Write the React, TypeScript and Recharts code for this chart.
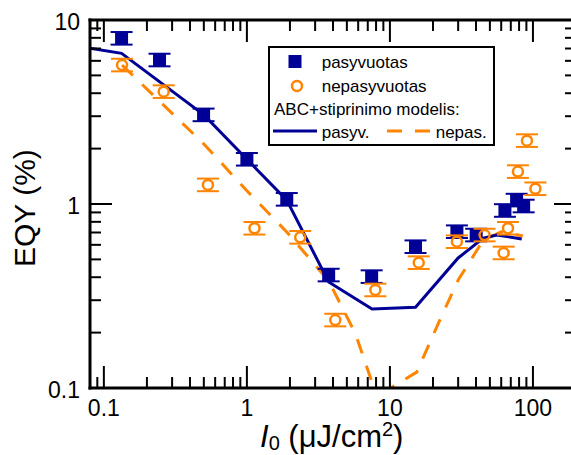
import React from 'react';
import { ComposedChart, XAxis, YAxis, Line, Scatter } from 'recharts';

const NAVY = '#000096';
const ORANGE = '#ff8400';
const FONT = '"Liberation Sans", Arial, Helvetica, sans-serif';

// Measured EQY, passivated sample
const pasI0 = [0.133, 0.245, 0.498, 1.0, 1.9, 3.73, 7.45, 15.1, 29.4, 40.1, 63.7, 76.9, 86.1];
const pasEqy = [7.95, 6.06, 3.05, 1.75, 1.06, 0.411, 0.403, 0.586, 0.707, 0.678, 0.922, 1.05, 0.975];

// Measured EQY, non-passivated sample
const nepI0 = [0.134, 0.262, 0.534, 1.13, 2.36, 4.15, 7.91, 15.9, 29.4, 45.9, 62.4, 66.9, 78.5, 90.8, 104];
const nepEqy = [5.69, 4.08, 1.27, 0.738, 0.659, 0.234, 0.341, 0.48, 0.624, 0.678, 0.542, 0.738, 1.5, 2.21, 1.21];

// ABC + amplification model curves
const modelPasI0 = [0.08, 0.133, 0.5, 1, 1.9, 3.73, 7.5, 15.1, 30, 45, 56, 83.5];
const modelPasEqy = [7.02, 6.59, 3.05, 1.75, 1.05, 0.377, 0.269, 0.275, 0.509, 0.653, 0.679, 0.645];
const modelNepI0 = [0.134, 0.5, 1, 1.9, 3.73, 5.73, 7.45, 9.48, 15.4, 22, 30, 45, 60, 85];
const modelNepEqy = [5.69, 2.12, 1.18, 0.705, 0.382, 0.198, 0.109, 0.097, 0.122, 0.228, 0.386, 0.637, 0.705, 0.67];

// Axis ticks
const xDomain: [number, number] = [0.08, 200];
const yDomain: [number, number] = [0.1, 10];
const xMajor = [0.1, 1, 10, 100];
const xMajorLabels = ['0.1', '1', '10', '100'];
const yMajor = [0.1, 1, 10];
const yMajorLabels = ['0.1', '1', '10'];

const logTicks = (lo: number, hi: number) => {
  const out: number[] = [];
  for (let e = -3; e <= 3; e++) {
    for (let m = 1; m <= 9; m++) {
      const v = parseFloat((m * Math.pow(10, e)).toPrecision(6));
      if (v >= lo - 1e-9 && v <= hi + 1e-9) out.push(v);
    }
  }
  return out;
};
const xTicks = logTicks(xDomain[0], xDomain[1]);
const yTicks = logTicks(yDomain[0], yDomain[1]);

const zip = (xs: number[], ys: number[]) => xs.map((x, i) => ({ x, y: ys[i] }));
const pasData = zip(pasI0, pasEqy);
const nepData = zip(nepI0, nepEqy);
const modelPas = zip(modelPasI0, modelPasEqy);
const modelNep = zip(modelNepI0, modelNepEqy);

const MAJOR_LEN = 22;
const MINOR_LEN = 11;
const TICK_W = 2;

const majorIndex = (v: number, majors: number[]) =>
  majors.findIndex((m) => Math.abs(m - v) / m < 1e-6);

const BottomTick = (props: any) => {
  const { x, y, payload } = props;
  const idx = majorIndex(payload.value, xMajor);
  const len = idx >= 0 ? MAJOR_LEN : MINOR_LEN;
  return (
    <g>
      <line x1={x} x2={x} y1={y} y2={y - len} stroke="#000" strokeWidth={TICK_W} />
      {idx >= 0 && (
        <text x={x} y={y + 28} textAnchor="middle" fontSize={23} fontFamily={FONT} fill="#000">
          {xMajorLabels[idx]}
        </text>
      )}
    </g>
  );
};

const TopTick = (props: any) => {
  const { x, y, payload } = props;
  const len = majorIndex(payload.value, xMajor) >= 0 ? MAJOR_LEN : MINOR_LEN;
  return <line x1={x} x2={x} y1={y} y2={y + len} stroke="#000" strokeWidth={TICK_W} />;
};

const LeftTick = (props: any) => {
  const { x, y, payload } = props;
  const idx = majorIndex(payload.value, yMajor);
  const len = idx >= 0 ? MAJOR_LEN : MINOR_LEN;
  return (
    <g>
      <line x1={x} x2={x + len} y1={y} y2={y} stroke="#000" strokeWidth={TICK_W} />
      {idx >= 0 && (
        <text x={x - 10} y={y + 9.5} textAnchor="end" fontSize={23} fontFamily={FONT} fill="#000">
          {yMajorLabels[idx]}
        </text>
      )}
    </g>
  );
};

const RightTick = (props: any) => {
  const { x, y, payload } = props;
  const len = majorIndex(payload.value, yMajor) >= 0 ? MAJOR_LEN : MINOR_LEN;
  return <line x1={x} x2={x - len} y1={y} y2={y} stroke="#000" strokeWidth={TICK_W} />;
};

// Filled square with error-bar caps
const SquareMarker = (props: any) => {
  const { cx, cy } = props;
  if (cx == null || cy == null) return null;
  return (
    <g>
      <line x1={cx - 11} x2={cx + 11} y1={cy - 6.3} y2={cy - 6.3} stroke={NAVY} strokeWidth={2} />
      <line x1={cx - 11} x2={cx + 11} y1={cy + 6.3} y2={cy + 6.3} stroke={NAVY} strokeWidth={2} />
      <rect x={cx - 6.5} y={cy - 6.5} width={13} height={13} fill={NAVY} />
    </g>
  );
};

// Open circle with error-bar caps
const CircleMarker = (props: any) => {
  const { cx, cy } = props;
  if (cx == null || cy == null) return null;
  return (
    <g>
      <line x1={cx - 11} x2={cx + 11} y1={cy - 6.3} y2={cy - 6.3} stroke={ORANGE} strokeWidth={2} />
      <line x1={cx - 11} x2={cx + 11} y1={cy + 6.3} y2={cy + 6.3} stroke={ORANGE} strokeWidth={2} />
      <circle cx={cx} cy={cy} r={5} fill="none" stroke={ORANGE} strokeWidth={2.5} />
    </g>
  );
};

const axisLine = { stroke: '#000', strokeWidth: 3, strokeLinecap: 'square' as const };

export default function App() {
  return (
    <div
      style={{
        position: 'absolute',
        left: 0,
        top: 0,
        width: 571,
        height: 455,
        overflow: 'hidden',
        background: '#fff',
      }}
    >
      <ComposedChart width={582} height={455} margin={{ top: 19, right: 5, bottom: 66, left: 89 }}>
        <XAxis
          xAxisId="b"
          dataKey="x"
          type="number"
          scale="log"
          domain={xDomain}
          allowDataOverflow
          ticks={xTicks}
          interval={0}
          tickSize={0}
          tickMargin={0}
          tickLine={false}
          tick={<BottomTick />}
          axisLine={axisLine}
          height={1}
          orientation="bottom"
        />
        <XAxis
          xAxisId="t"
          dataKey="x"
          type="number"
          scale="log"
          domain={xDomain}
          allowDataOverflow
          ticks={xTicks}
          interval={0}
          tickSize={0}
          tickMargin={0}
          tickLine={false}
          tick={<TopTick />}
          axisLine={axisLine}
          height={1}
          orientation="top"
        />
        <YAxis
          yAxisId="l"
          dataKey="y"
          type="number"
          scale="log"
          domain={yDomain}
          allowDataOverflow
          ticks={yTicks}
          interval={0}
          tickSize={0}
          tickMargin={0}
          tickLine={false}
          tick={<LeftTick />}
          axisLine={axisLine}
          width={1}
          orientation="left"
        />
        <YAxis
          yAxisId="r"
          dataKey="y"
          type="number"
          scale="log"
          domain={yDomain}
          allowDataOverflow
          ticks={yTicks}
          interval={0}
          tickSize={0}
          tickMargin={0}
          tickLine={false}
          tick={<RightTick />}
          axisLine={axisLine}
          width={1}
          orientation="right"
        />
        <Scatter
          xAxisId="b"
          yAxisId="l"
          data={pasData}
          dataKey="y"
          shape={<SquareMarker />}
          isAnimationActive={false}
        />
        <Scatter
          xAxisId="b"
          yAxisId="l"
          data={nepData}
          dataKey="y"
          shape={<CircleMarker />}
          isAnimationActive={false}
        />
        <Line
          xAxisId="b"
          yAxisId="l"
          data={modelNep}
          dataKey="y"
          type="linear"
          stroke={ORANGE}
          strokeWidth={3}
          strokeDasharray="15 13"
          dot={false}
          activeDot={false}
          isAnimationActive={false}
        />
        <Line
          xAxisId="b"
          yAxisId="l"
          data={modelPas}
          dataKey="y"
          type="linear"
          stroke={NAVY}
          strokeWidth={3}
          dot={false}
          activeDot={false}
          isAnimationActive={false}
        />
      </ComposedChart>

      <svg
        width={571}
        height={455}
        style={{ position: 'absolute', left: 0, top: 0, pointerEvents: 'none' }}
        fontFamily={FONT}
      >
        {/* legend */}
        <rect x={269} y={47} width={225} height={98} fill="#fff" stroke="#000" strokeWidth={2} />
        <rect x={288.5} y={55} width={13} height={13} fill={NAVY} />
        <text x={321.7} y={68.3} fontSize={17} fill="#000">pasyvuotas</text>
        <circle cx={297} cy={86} r={5} fill="none" stroke={ORANGE} strokeWidth={2.5} />
        <text x={321.7} y={91.7} fontSize={17} fill="#000">nepasyvuotas</text>
        <text x={274} y={115} fontSize={17} fill="#000">ABC+stiprinimo modelis:</text>
        <line x1={273} x2={317} y1={131} y2={131} stroke={NAVY} strokeWidth={3} />
        <text x={321.7} y={138.3} fontSize={17} fill="#000">pasyv.</text>
        <line x1={387} x2={430} y1={131} y2={131} stroke={ORANGE} strokeWidth={3} strokeDasharray="15 13" />
        <text x={435.7} y={138.3} fontSize={17} fill="#000">nepas.</text>

        {/* axis titles */}
        <text transform="rotate(-90)" x={-267} y={35} fontSize={30} fill="#000">
          EQY (%)
        </text>
        <text x={260} y={447} fontSize={31} fill="#000">
          <tspan fontStyle="italic">I</tspan>
          <tspan fontSize={20} dy={3}>0</tspan>
          <tspan dy={-3}> (μJ/cm</tspan>
          <tspan fontSize={20} dy={-11}>2</tspan>
          <tspan dy={11}>)</tspan>
        </text>
      </svg>
    </div>
  );
}
